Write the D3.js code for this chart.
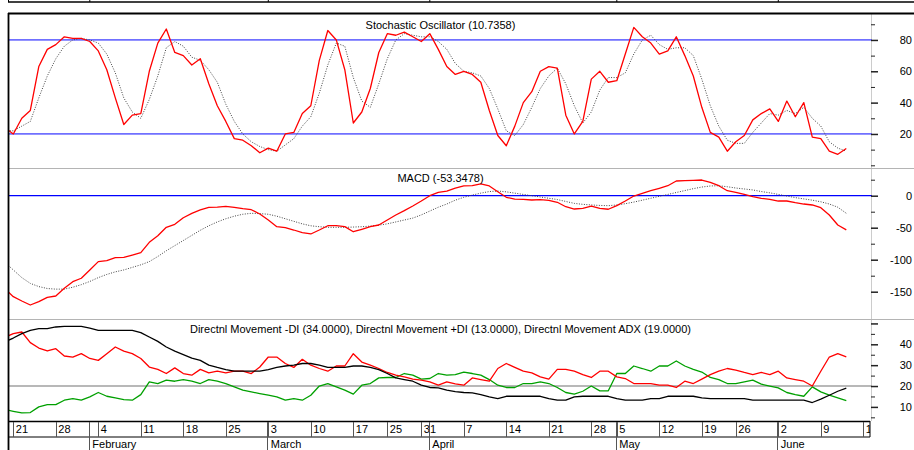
<!DOCTYPE html>
<html>
<head>
<meta charset="utf-8">
<script src="https://cdn.jsdelivr.net/npm/d3@7"></script>
<style>
	body { margin: 0; background: #fff; }
	#graphic { width: 914px; height: 450px; }
	text { font-family: "Liberation Sans", Arial, sans-serif; font-size: 11px; fill: #000; }
	.axis path.domain { display: none; }
</style>
</head>
<body>
<div id="graphic"></div>
<script>
// trading day index of the first value in every series (the Friday before 21 Jan)
const firstIndex = -1;

const stochK = [24, 20, 30, 35, 63, 74, 77, 82, 81, 81,
	79, 73, 61, 43, 26, 32, 33, 60, 78, 87,
	72, 70, 64, 68, 52, 38, 28, 17, 16, 12.5,
	8, 11, 9, 20, 21, 33, 38, 67, 86, 80,
	61, 27, 34, 49, 72, 84, 83, 85, 82, 79,
	84, 74, 63, 58, 60, 58, 53, 35, 19, 12.5,
	25, 40, 47, 60, 63, 62, 32, 20, 28, 55,
	60, 53, 54, 71, 88, 82, 78, 71, 73, 82,
	70, 57, 37, 21, 18, 9, 15, 19, 29, 33,
	36, 28, 41, 31, 40, 18, 17, 9, 7, 10.7358];

const stochD = [22, 22, 25, 28, 43, 57, 68, 76, 80, 81,
	80, 78, 71, 59, 43, 34, 30, 42, 57, 75,
	79, 76, 69, 67, 61, 53, 39, 28, 20, 15,
	12, 10, 9, 13, 17, 25, 31, 46, 64, 78,
	76, 56, 41, 37, 52, 68, 80, 84, 83, 82,
	82, 79, 74, 65, 60, 59, 57, 49, 36, 22,
	19, 26, 37, 49, 57, 62, 52, 38, 27, 34,
	48, 56, 56, 59, 71, 80, 83, 77, 74, 75,
	75, 70, 55, 38, 25, 16, 14, 14, 21, 27,
	33, 32, 35, 33, 37, 30, 25, 15, 11, 9];

const macdLine = [-145, -157.8, -164.5, -170.8, -165.6, -158.8, -156.7, -144.7, -134.4, -129,
	-116, -103, -101.5, -96.8, -96.3, -92.7, -89, -72.9, -62.5, -49.4,
	-44.7, -34.4, -27.5, -22.3, -18.1, -17.7, -16.6, -18.1, -20.3, -21.9,
	-28.6, -38, -48.4, -50, -53.6, -57.8, -59.8, -53.6, -46.9, -46.9,
	-48.4, -56.3, -52.5, -48.4, -45.8, -38, -30.2, -23.4, -16.1, -8.3,
	0, 5.3, 7.3, 12, 15.2, 15.6, 18.3, 15.2, 6.3, -2.5,
	-5.2, -5.6, -6.7, -6.2, -7.2, -10.3, -17.2, -20.8, -19.7, -16.1,
	-19.7, -21.2, -15.6, -8.3, -0.5, 3.7, 7.8, 11.6, 15.6, 23,
	23.4, 24, 24.5, 20.9, 15.6, 7.8, 5.3, 2.2, -1.6, -4.1,
	-5.6, -8.3, -8.3, -10.9, -13, -14.5, -18.8, -30.2, -45.8, -53.3478];

const macdSignal = [-104, -116, -128, -137, -142, -145, -146, -146, -143, -139,
	-134, -128, -123, -119, -116, -112, -108, -103, -95, -86,
	-78, -70, -62, -54, -47, -41, -36, -32, -29, -27.5,
	-28, -29, -32, -36, -40, -44, -47, -48.5, -49.4, -49.4,
	-49.4, -49, -48.5, -47.5, -46, -44, -41, -38, -35, -30,
	-24, -18, -13, -7, -2.5, 1, 4, 6.5, 7.3, 6,
	4, 2, 0, -2, -4, -6, -9, -12, -13.5, -14.5,
	-15.2, -15.6, -14.5, -12.5, -10, -7, -4, -1, 2, 5,
	8, 11, 13.5, 15.2, 15.6, 14, 12, 10.5, 9, 6.5,
	4.5, 2, -0.5, -3, -5, -7, -9.5, -13, -18, -27.5];

const diMinus = [43.3, 45.1, 45.9, 40.8, 38.2, 36.8, 37.9, 34.4, 33.9, 35.5,
	33.2, 32.3, 35.5, 38.7, 36.7, 35.5, 33.2, 29.1, 28, 26,
	28.7, 26, 25.2, 28, 26.3, 27.1, 26.3, 27.1, 27.1, 26,
	29.1, 33.9, 33.9, 30.8, 28.9, 32.8, 30, 28.4, 27.1, 29.6,
	29.6, 35.5, 31.5, 30, 28.4, 26.5, 25.2, 24.4, 23.3, 22.8,
	22, 20.4, 22, 21, 20.4, 23.9, 23.1, 22.3, 28.4, 30.8,
	28.9, 27.1, 26.3, 24.4, 23.3, 28, 28, 27.1, 25.5, 24.1,
	27.1, 27.1, 24.4, 23.6, 21.2, 21.2, 21.2, 20.4, 20.4, 19.3,
	22.3, 21.2, 23.3, 25.5, 27.1, 28.4, 27.6, 26.5, 25.5, 26.5,
	25.5, 27.1, 23.9, 23.1, 22.3, 20, 27.1, 33.9, 35.5, 34];

const diPlus = [8.7, 7.9, 7.1, 7.3, 10, 11.1, 11.1, 13.2, 14, 13.2,
	14.8, 16.9, 15.1, 14.3, 13.5, 13.2, 15.9, 22, 21.2, 22.8,
	22.3, 23.1, 22.3, 21.2, 23.1, 22.3, 21.2, 19.6, 18, 17.2,
	16.4, 15.6, 14.8, 13.2, 14, 13.2, 15.6, 20, 21.2, 19.6,
	18, 16.1, 20.4, 21.2, 23.9, 24.1, 24.1, 26, 25.2, 23.3,
	23.6, 26, 25.2, 25.5, 26.7, 26, 25.2, 23.1, 20.4, 19.3,
	19.3, 21.2, 21.2, 22, 21.2, 19.3, 16.9, 16.1, 17.5, 20,
	17.7, 17.7, 26, 26, 29.6, 28.4, 27.1, 29.6, 29.6, 32,
	29.6, 28, 26.7, 24.1, 23.1, 21.2, 21.2, 22, 22.8, 20.9,
	20, 19.1, 16.9, 15.9, 15.1, 19.6, 17.2, 15.6, 14.3, 13];

const adx = [41.2, 43, 45.1, 46.7, 47.5, 47.5, 48.3, 48.6, 48.6, 48.6,
	47.8, 46.7, 46.7, 46.7, 46.7, 46.7, 45.6, 43.5, 41.4, 38.7,
	36.7, 35.1, 33.4, 32.3, 30, 28.9, 27.9, 27.1, 27.1, 27.1,
	27.1, 27.9, 28.9, 29.6, 30, 30.8, 30.8, 30, 28.9, 28.9,
	28.9, 29.6, 29.6, 28.9, 27.9, 26, 23.9, 23.1, 22.3, 20.4,
	19.3, 19.1, 18, 17.3, 16.9, 16.7, 15.9, 14.8, 14, 15.1,
	15.1, 15.1, 15.1, 15.1, 14, 13.2, 13.2, 14.8, 15.1, 15.1,
	15.1, 15.1, 14, 13.2, 13.2, 13.2, 14, 14, 15.1, 15.1,
	15.1, 15.1, 14.3, 14, 14, 14, 14, 14, 13.2, 13.2,
	13.2, 13.2, 13.2, 13.2, 13.2, 12.1, 13.7, 15.6, 17.5, 19];

// date axis: label and trading day index
const weekLabels = ['21', '28', '4', '11', '18', '25', '3', '10', '17', '25', '31', '7', '14', '21', '28', '5', '12', '19', '26', '2', '9', '16'];
const weekIndex = [0, 5, 10, 15, 20, 25, 30, 35, 40, 44, 48, 53, 58, 63, 68, 71, 76, 81, 85, 90, 95, 100];
const monthLabels = ['February', 'March', 'April', 'May', 'June'];
const monthIndex = [9, 30, 49, 71, 90];

// titles
const stochTitle = 'Stochastic Oscillator (10.7358)';
const macdTitle = 'MACD (-53.3478)';
const dmTitle = 'Directnl Movement -DI (34.0000), Directnl Movement +DI (13.0000), Directnl Movement ADX (19.0000)';

const graphic = d3.select('#graphic');

function drawGraphic() {
	const width = 914, height = 450;
	const plotLeft = 9, plotRight = 872;
	const panels = {
		stoch: { top: 14, bottom: 168 },
		macd: { top: 168, bottom: 319 },
		dm: { top: 319, bottom: 421 }
	};

	const svg = graphic.append('svg')
		.attr('width', width)
		.attr('height', height);

	const defs = svg.append('defs');
	Object.entries(panels).forEach(([k, p]) => {
		defs.append('clipPath').attr('id', 'clip-' + k)
			.append('rect')
			.attr('x', plotLeft)
			.attr('y', p.top)
			.attr('width', plotRight - plotLeft)
			.attr('height', p.bottom - p.top);
	});
	defs.append('clipPath').attr('id', 'clip-dates')
		.append('rect')
		.attr('x', plotLeft).attr('y', 421)
		.attr('width', 870 - plotLeft).attr('height', 30);

	// x scale over trading day index
	const x = d3.scaleLinear().domain([0, 100]).range([13.3, 863.3]);
	const idx = stochK.map((d, i) => firstIndex + i);

	// y scales
	const yStoch = d3.scaleLinear().domain([0, 100]).range([165.3, 8.6]);
	const yMacd = d3.scaleLinear().domain([-150, 0]).range([291.7, 195.7]);
	const yDm = d3.scaleLinear().domain([10, 40]).range([406.9, 344.3]);

	// frame bits
	svg.append('line').attr('x1', 8).attr('x2', width).attr('y1', 2).attr('y2', 2)
		.attr('stroke', '#000').attr('stroke-width', 1.3);
	svg.append('line').attr('x1', 8.5).attr('x2', 8.5).attr('y1', 0).attr('y2', 2)
		.attr('stroke', '#000');
	svg.append('g').selectAll('line')
		.data(monthIndex)
		.join('line')
		.attr('x1', (d) => x(d)).attr('x2', (d) => x(d))
		.attr('y1', 0).attr('y2', 2)
		.attr('stroke', '#000');

	// plot right edge
	svg.append('line').attr('x1', plotRight - 0.5).attr('x2', plotRight - 0.5).attr('y1', 14).attr('y2', 421)
		.attr('stroke', '#ccc');

	// panel separators
	[panels.macd.top, panels.dm.top].forEach((yy) => {
		svg.append('line').attr('x1', plotLeft).attr('x2', width).attr('y1', yy + 0.5).attr('y2', yy + 0.5)
			.attr('stroke', '#b4b4b4');
	});

	// reference lines
	[80, 20].forEach((v) => {
		svg.append('line').attr('x1', plotLeft).attr('x2', plotRight).attr('y1', yStoch(v)).attr('y2', yStoch(v))
			.attr('stroke', '#7070ff').attr('stroke-width', 1.8);
	});
	svg.append('line').attr('x1', plotLeft).attr('x2', plotRight).attr('y1', yMacd(0)).attr('y2', yMacd(0))
		.attr('stroke', '#0000ff').attr('stroke-width', 1.3);
	svg.append('line').attr('x1', plotLeft).attr('x2', plotRight).attr('y1', yDm(20)).attr('y2', yDm(20))
		.attr('stroke', '#a0a0a0').attr('stroke-width', 1.5);

	// series
	const addLine = (values, yScale, clip, colour, dashed, w) => {
		const line = d3.line()
			.x((d, i) => x(idx[i]))
			.y((d) => yScale(d));
		svg.append('path')
			.attr('clip-path', 'url(#clip-' + clip + ')')
			.attr('d', line(values))
			.attr('fill', 'none')
			.attr('stroke', colour)
			.attr('stroke-width', w)
			.attr('stroke-dasharray', dashed ? '1,1.5' : null)
			.attr('stroke-linejoin', 'round');
	};

	addLine(stochD, yStoch, 'stoch', '#444', true, 1);
	addLine(stochK, yStoch, 'stoch', '#ff0000', false, 1.3);
	addLine(macdSignal, yMacd, 'macd', '#444', true, 1);
	addLine(macdLine, yMacd, 'macd', '#ff0000', false, 1.3);
	addLine(diPlus, yDm, 'dm', '#00a000', false, 1.3);
	addLine(diMinus, yDm, 'dm', '#ff0000', false, 1.3);
	addLine(adx, yDm, 'dm', '#000', false, 1.3);

	// right axes: minor ticks, then labelled major ticks
	const addAxis = (yScale, minor, major, labelled) => {
		svg.append('g')
			.attr('class', 'axis')
			.attr('transform', 'translate(' + (plotRight - 1) + ',0)')
			.call(d3.axisRight(yScale).tickValues(minor).tickSize(4).tickFormat(''))
			.selectAll('line').attr('stroke', '#222');
		const g = svg.append('g')
			.attr('class', 'axis')
			.attr('transform', 'translate(' + (plotRight - 1) + ',0)')
			.call(d3.axisRight(yScale).tickValues(major).tickSize(7)
				.tickFormat((d) => labelled.includes(d) ? d : ''));
		g.selectAll('line').attr('stroke', '#222').attr('stroke-width', 1.5);
		g.selectAll('text')
			.attr('x', 41)
			.attr('text-anchor', 'end')
			.attr('fill', '#000')
			.style('font-size', '11px');
	};

	addAxis(yStoch, [0, 10, 30, 50, 70, 90], [20, 40, 60, 80], [20, 40, 60, 80]);
	addAxis(yMacd, [25, -25, -75, -125], [0, -50, -100, -150], [0, -50, -100, -150]);
	addAxis(yDm, [5, 15, 25, 35, 45], [10, 20, 30, 40, 50], [10, 20, 30, 40]);

	// titles
	const centre = (plotLeft + plotRight) / 2;
	[[stochTitle, 28.5], [macdTitle, 181.5], [dmTitle, 333]].forEach(([t, yy]) => {
		svg.append('text')
			.attr('x', centre)
			.attr('y', yy)
			.attr('text-anchor', 'middle')
			.text(t);
	});

	// date axis rows
	svg.append('line').attr('x1', plotLeft).attr('x2', 870).attr('y1', 421.5).attr('y2', 421.5)
		.attr('stroke', '#000').attr('stroke-width', 1.5);
	svg.append('line').attr('x1', plotLeft).attr('x2', 870).attr('y1', 437).attr('y2', 437)
		.attr('stroke', '#000').attr('stroke-width', 1);
	svg.append('line').attr('x1', 870).attr('x2', 870).attr('y1', 421).attr('y2', 437)
		.attr('stroke', '#000');

	const dates = svg.append('g').attr('clip-path', 'url(#clip-dates)');

	dates.selectAll('line.week')
		.data(weekIndex)
		.join('line')
		.attr('class', 'week')
		.attr('x1', (d) => Math.round(x(d)) + 0.5).attr('x2', (d) => Math.round(x(d)) + 0.5)
		.attr('y1', 422).attr('y2', 437)
		.attr('stroke', '#555');

	dates.selectAll('text.week')
		.data(weekLabels)
		.join('text')
		.attr('class', 'week')
		.attr('x', (d, i) => x(weekIndex[i]) + 2.5)
		.attr('y', 433)
		.text((d) => d);

	svg.selectAll('line.month')
		.data(monthIndex)
		.join('line')
		.attr('class', 'month')
		.attr('x1', (d) => Math.round(x(d)) - 0.5).attr('x2', (d) => Math.round(x(d)) - 0.5)
		.attr('y1', 422).attr('y2', height)
		.attr('stroke', '#555');

	svg.selectAll('text.month')
		.data(monthLabels)
		.join('text')
		.attr('class', 'month')
		.attr('x', (d, i) => x(monthIndex[i]) + 2.5)
		.attr('y', 448)
		.text((d) => d);

	// outer frame: thick top rule and left border
	svg.append('line').attr('x1', 8).attr('x2', width).attr('y1', 13.5).attr('y2', 13.5)
		.attr('stroke', '#000').attr('stroke-width', 2);
	svg.append('line').attr('x1', 8.5).attr('x2', 8.5).attr('y1', 13).attr('y2', height)
		.attr('stroke', '#000').attr('stroke-width', 1.8);
}

drawGraphic();
</script>
</body>
</html>
